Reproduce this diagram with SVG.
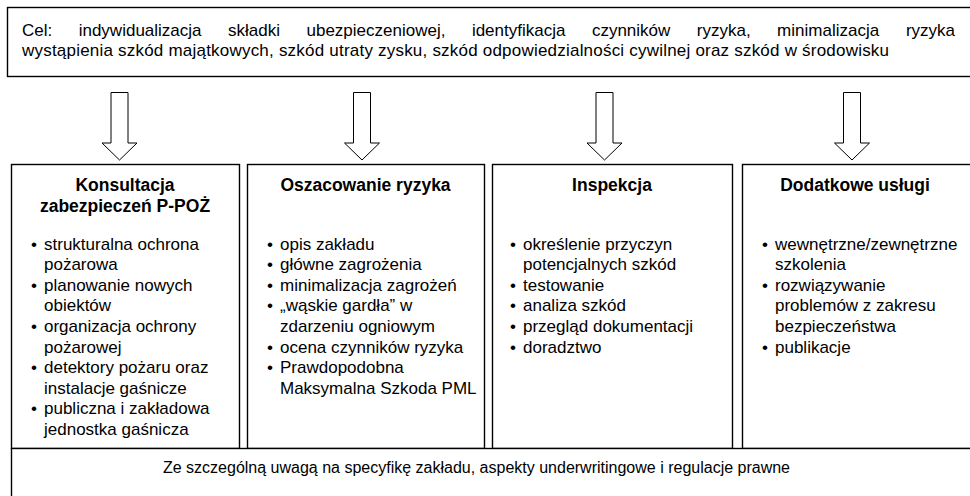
<svg xmlns="http://www.w3.org/2000/svg" width="970" height="496" viewBox="0 0 970 496">
<style>
.box{fill:#fff;stroke:#000;stroke-width:1.4}
.arrow{fill:#fff;stroke:#000;stroke-width:1}
text{font-family:"Liberation Sans",Arial,sans-serif;font-size:17px;fill:#000}
.h{font-weight:bold;text-anchor:middle;font-size:17.5px}
.c{text-anchor:middle;font-size:16px}
</style>
<rect width="970" height="496" fill="#fff"/>
<g id="goal">
<rect class="box" x="7.5" y="7.5" width="975" height="69"/>
<text y="35.5"><tspan x="22">Cel:</tspan><tspan x="78.7">indywidualizacja</tspan><tspan x="228">składki</tspan><tspan x="306.5">ubezpieczeniowej,</tspan><tspan x="471.9">identyfikacja</tspan><tspan x="591.9">czynników</tspan><tspan x="696.8">ryzyka,</tspan><tspan x="777.1">minimalizacja</tspan><tspan x="955" text-anchor="end">ryzyka</tspan></text>
<text x="22" y="55.5" textLength="867">wystąpienia szkód majątkowych, szkód utraty zysku, szkód odpowiedzialności cywilnej oraz szkód w środowisku</text>
</g>
<g id="connectors">
<path class="arrow" d="M111,92.5 H128 V143 H137 L119.5,160 L102,143 H111 Z"/>
<path class="arrow" d="M353.5,92.5 H370.5 V143 H379.5 L362,160 L344.5,143 H353.5 Z"/>
<path class="arrow" d="M596,92.5 H613 V143 H622 L604.5,160 L587,143 H596 Z"/>
<path class="arrow" d="M843.5,92.5 H860.5 V143 H869.5 L852,160 L834.5,143 H843.5 Z"/>
</g>
<g id="konsultacja">
<rect class="box" x="11.5" y="164.5" width="228" height="284"/>
<text class="h" x="125" y="191">Konsultacja</text>
<text class="h" x="125" y="211.5">zabezpieczeń P-POŻ</text>
<text x="31" y="249.5">•</text><text x="44" y="249.5">strukturalna ochrona</text>
<text x="44" y="270.1">pożarowa</text>
<text x="31" y="290.7">•</text><text x="44" y="290.7">planowanie nowych</text>
<text x="44" y="311.3">obiektów</text>
<text x="31" y="331.9">•</text><text x="44" y="331.9">organizacja ochrony</text>
<text x="44" y="352.5">pożarowej</text>
<text x="31" y="373.1">•</text><text x="44" y="373.1">detektory pożaru oraz</text>
<text x="44" y="393.7">instalacje gaśnicze</text>
<text x="31" y="414.3">•</text><text x="44" y="414.3">publiczna i zakładowa</text>
<text x="44" y="434.9">jednostka gaśnicza</text>
</g>
<g id="oszacowanie">
<rect class="box" x="247.5" y="164.5" width="237" height="284"/>
<text class="h" x="365.5" y="191">Oszacowanie ryzyka</text>
<text x="267" y="249.5">•</text><text x="280" y="249.5">opis zakładu</text>
<text x="267" y="270.1">•</text><text x="280" y="270.1">główne zagrożenia</text>
<text x="267" y="290.7">•</text><text x="280" y="290.7">minimalizacja zagrożeń</text>
<text x="267" y="311.3">•</text><text x="280" y="311.3">„wąskie gardła” w</text>
<text x="280" y="331.9">zdarzeniu ogniowym</text>
<text x="267" y="352.5">•</text><text x="280" y="352.5">ocena czynników ryzyka</text>
<text x="267" y="373.1">•</text><text x="280" y="373.1">Prawdopodobna</text>
<text x="280" y="393.7">Maksymalna Szkoda PML</text>
</g>
<g id="inspekcja">
<rect class="box" x="492.5" y="164.5" width="240" height="284"/>
<text class="h" x="612" y="191">Inspekcja</text>
<text x="510" y="249.5">•</text><text x="523" y="249.5">określenie przyczyn</text>
<text x="523" y="270.1">potencjalnych szkód</text>
<text x="510" y="290.7">•</text><text x="523" y="290.7">testowanie</text>
<text x="510" y="311.3">•</text><text x="523" y="311.3">analiza szkód</text>
<text x="510" y="331.9">•</text><text x="523" y="331.9">przegląd dokumentacji</text>
<text x="510" y="352.5">•</text><text x="523" y="352.5">doradztwo</text>
</g>
<g id="dodatkowe">
<rect class="box" x="742.5" y="164.5" width="240" height="284"/>
<text class="h" x="855" y="191">Dodatkowe usługi</text>
<text x="762" y="249.5">•</text><text x="775" y="249.5">wewnętrzne/zewnętrzne</text>
<text x="775" y="270.1">szkolenia</text>
<text x="762" y="290.7">•</text><text x="775" y="290.7">rozwiązywanie</text>
<text x="775" y="311.3">problemów z zakresu</text>
<text x="775" y="331.9">bezpieczeństwa</text>
<text x="762" y="352.5">•</text><text x="775" y="352.5">publikacje</text>
</g>
<g id="uwaga">
<rect class="box" x="11.5" y="448.5" width="975" height="60"/>
<text class="c" x="476.5" y="473">Ze szczególną uwagą na specyfikę zakładu, aspekty underwritingowe i regulacje prawne</text>
</g>
</svg>
